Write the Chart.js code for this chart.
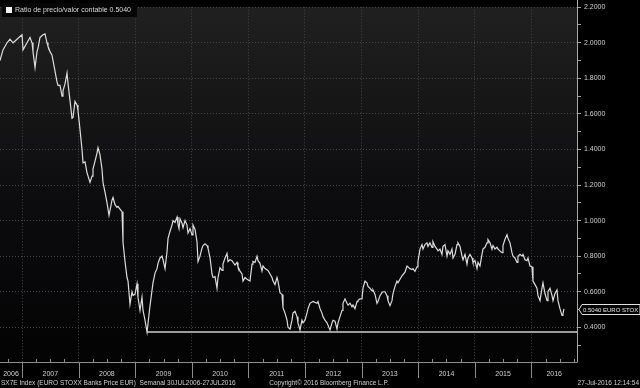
<!DOCTYPE html>
<html>
<head>
<meta charset="utf-8">
<script src="https://cdn.jsdelivr.net/npm/chart.js@4.4.0/dist/chart.umd.min.js"></script>
<style>
    html, body { margin: 0; padding: 0; background: #000; }
    #wrap { width: 640px; height: 388px; }
</style>
</head>
<body>
<div id="wrap"><canvas id="pbChart" width="640" height="388"></canvas></div>
<script>
// Weekly P/B ratio of SX7E (dates as decimal years)
const dates = [
    2006.611, 2006.664, 2006.735, 2006.788, 2006.841, 2006.912, 2006.965,
    2007.000, 2007.018, 2007.088, 2007.141, 2007.177, 2007.194, 2007.230, 2007.265, 2007.283, 2007.318, 2007.371,
    2007.406, 2007.442, 2007.459, 2007.495, 2007.530, 2007.548, 2007.583, 2007.618, 2007.636, 2007.671, 2007.707,
    2007.724, 2007.760, 2007.795, 2007.813, 2007.848, 2007.883, 2007.901, 2007.936, 2007.972, 2007.989,
    2008.025, 2008.060, 2008.078, 2008.113, 2008.148, 2008.201, 2008.237, 2008.254, 2008.290, 2008.325, 2008.343,
    2008.378, 2008.413, 2008.431, 2008.466, 2008.502, 2008.537, 2008.590, 2008.608, 2008.643, 2008.678, 2008.696,
    2008.731, 2008.767, 2008.784, 2008.820, 2008.855, 2008.873, 2008.908, 2008.943, 2008.961, 2008.996,
    2009.032, 2009.049, 2009.085, 2009.120, 2009.138, 2009.173, 2009.209, 2009.261, 2009.314, 2009.350, 2009.385,
    2009.403, 2009.438, 2009.473, 2009.491, 2009.527, 2009.562, 2009.580, 2009.615, 2009.650, 2009.668, 2009.703,
    2009.739, 2009.756, 2009.774, 2009.792, 2009.827, 2009.845, 2009.880, 2009.915, 2009.933, 2009.968,
    2010.004, 2010.021, 2010.057, 2010.092, 2010.110, 2010.145, 2010.180, 2010.198, 2010.233, 2010.269, 2010.286,
    2010.322, 2010.357, 2010.375, 2010.410, 2010.445, 2010.463, 2010.498, 2010.534, 2010.551, 2010.587, 2010.622,
    2010.640, 2010.675, 2010.710, 2010.763, 2010.799, 2010.816, 2010.852, 2010.887, 2010.905, 2010.940, 2010.975,
    2011.028, 2011.064, 2011.081, 2011.117, 2011.152, 2011.170, 2011.205, 2011.240, 2011.258, 2011.293, 2011.346,
    2011.382, 2011.417, 2011.435, 2011.470, 2011.505, 2011.523, 2011.558, 2011.594, 2011.611, 2011.647, 2011.682,
    2011.700, 2011.735, 2011.770, 2011.788, 2011.823, 2011.859, 2011.876, 2011.912, 2011.947, 2011.965,
    2012.000, 2012.035, 2012.053, 2012.088, 2012.141, 2012.212, 2012.230, 2012.265, 2012.300, 2012.318, 2012.353,
    2012.389, 2012.442, 2012.477, 2012.495, 2012.530, 2012.565, 2012.583, 2012.618, 2012.654, 2012.671, 2012.707,
    2012.742, 2012.760, 2012.795, 2012.830, 2012.848, 2012.883, 2012.919, 2012.936, 2012.972,
    2013.007, 2013.025, 2013.060, 2013.095, 2013.113, 2013.148, 2013.184, 2013.201, 2013.237, 2013.272, 2013.290,
    2013.325, 2013.360, 2013.378, 2013.413, 2013.449, 2013.466, 2013.502, 2013.537, 2013.555, 2013.590, 2013.625,
    2013.643, 2013.678, 2013.714, 2013.731, 2013.767, 2013.802, 2013.820, 2013.855, 2013.890, 2013.908, 2013.943,
    2013.979, 2013.996,
    2014.032, 2014.067, 2014.085, 2014.120, 2014.155, 2014.173, 2014.208, 2014.244, 2014.261, 2014.297, 2014.332,
    2014.350, 2014.385, 2014.420, 2014.438, 2014.473, 2014.509, 2014.526, 2014.562, 2014.597, 2014.615, 2014.650,
    2014.686, 2014.703, 2014.739, 2014.774, 2014.792, 2014.827, 2014.862, 2014.880, 2014.915, 2014.951, 2014.968,
    2015.004, 2015.039, 2015.057, 2015.092, 2015.127, 2015.145, 2015.180, 2015.216, 2015.233, 2015.269, 2015.304,
    2015.322, 2015.357, 2015.392, 2015.410, 2015.445, 2015.481, 2015.498, 2015.534, 2015.569, 2015.587, 2015.622,
    2015.657, 2015.675, 2015.710, 2015.746, 2015.763, 2015.799, 2015.834, 2015.852, 2015.887, 2015.922, 2015.940,
    2015.975,
    2016.011, 2016.028, 2016.064, 2016.099, 2016.117, 2016.152, 2016.187, 2016.205, 2016.240, 2016.276, 2016.293,
    2016.329, 2016.364, 2016.382, 2016.417, 2016.452, 2016.470, 2016.505, 2016.541, 2016.558, 2016.576
];

const ratio = [
    1.90, 1.96, 2.00, 2.02, 2.00, 2.02, 2.035,
    2.045, 1.96, 2.00, 2.03, 2.00, 1.95, 1.86, 1.95, 1.97, 2.03, 2.045,
    2.05, 2.00, 1.98, 1.95, 1.93, 1.90, 1.84, 1.78, 1.76, 1.76, 1.70,
    1.73, 1.77, 1.83, 1.77, 1.675, 1.575, 1.58, 1.67, 1.65, 1.62,
    1.51, 1.40, 1.325, 1.33, 1.27, 1.215, 1.25, 1.29, 1.335, 1.38, 1.41,
    1.37, 1.29, 1.215, 1.16, 1.10, 1.03, 1.115, 1.13, 1.09, 1.075, 1.08,
    1.065, 1.05, 0.88, 0.77, 0.68, 0.66, 0.53, 0.60, 0.58, 0.585,
    0.645, 0.57, 0.495, 0.57, 0.495, 0.44, 0.373, 0.52, 0.65, 0.705, 0.73,
    0.76, 0.79, 0.80, 0.78, 0.73, 0.825, 0.90, 0.94, 0.975, 1.00, 0.99,
    1.02, 0.98, 0.955, 1.01, 0.985, 0.96, 1.00, 0.975, 0.93, 0.955,
    0.92, 0.975, 0.95, 0.88, 0.77, 0.80, 0.845, 0.86, 0.87, 0.86, 0.845,
    0.79, 0.70, 0.68, 0.685, 0.62, 0.68, 0.735, 0.72, 0.755, 0.79, 0.815,
    0.77, 0.78, 0.775, 0.75, 0.765, 0.74, 0.716, 0.70, 0.66, 0.68, 0.67,
    0.66, 0.755, 0.77, 0.765, 0.80, 0.775, 0.76, 0.716, 0.745, 0.73, 0.72,
    0.70, 0.68, 0.66, 0.64, 0.68, 0.66, 0.595, 0.585, 0.51, 0.48, 0.44,
    0.40, 0.39, 0.44, 0.48, 0.49, 0.46, 0.425, 0.385, 0.44, 0.425,
    0.44, 0.48, 0.505, 0.535, 0.545, 0.535, 0.545, 0.505, 0.48, 0.46, 0.44,
    0.425, 0.385, 0.425, 0.44, 0.435, 0.39, 0.425, 0.46, 0.495, 0.535, 0.56,
    0.535, 0.525, 0.535, 0.515, 0.525, 0.505, 0.545, 0.55, 0.56,
    0.56, 0.62, 0.66, 0.65, 0.63, 0.62, 0.605, 0.61, 0.585, 0.535, 0.545,
    0.578, 0.595, 0.60, 0.60, 0.578, 0.55, 0.522, 0.55, 0.59, 0.63, 0.66,
    0.65, 0.67, 0.69, 0.69, 0.71, 0.745, 0.74, 0.73, 0.725, 0.73, 0.715,
    0.74, 0.77,
    0.84, 0.865, 0.84, 0.865, 0.875, 0.855, 0.875, 0.85, 0.882, 0.855, 0.84,
    0.83, 0.84, 0.81, 0.855, 0.865, 0.80, 0.83, 0.81, 0.84, 0.79, 0.81,
    0.865, 0.875, 0.855, 0.80, 0.78, 0.81, 0.755, 0.79, 0.81, 0.79, 0.765,
    0.775, 0.73, 0.765, 0.745, 0.81, 0.84, 0.85, 0.875, 0.893, 0.875, 0.84,
    0.86, 0.84, 0.85, 0.84, 0.83, 0.82, 0.86, 0.895, 0.92, 0.90, 0.875,
    0.82, 0.80, 0.79, 0.765, 0.80, 0.81, 0.80, 0.81, 0.78, 0.775, 0.79,
    0.745,
    0.74, 0.66, 0.64, 0.62, 0.578, 0.55, 0.62, 0.65, 0.59, 0.55, 0.60,
    0.62, 0.58, 0.55, 0.59, 0.61, 0.55, 0.505, 0.467, 0.475, 0.504
];

const yearLabels = ['2006', '2007', '2008', '2009', '2010', '2011', '2012', '2013', '2014', '2015', '2016'];
const yearStarts = [2007, 2008, 2009, 2010, 2011, 2012, 2013, 2014, 2015, 2016];
const yTicks = [0.3, 0.4, 0.5, 0.6, 0.7, 0.8, 0.9, 1.0, 1.1, 1.2, 1.3, 1.4, 1.5, 1.6, 1.7, 1.8, 1.9, 2.0, 2.1, 2.2];

const seriesLabel = 'Ratio de precio/valor contable';
const tagName = 'EURO STOX';
const footerLeft = 'SX7E Index (EURO STOXX Banks Price EUR)  Semanal 30JUL2006-27JUL2016';
const footerMid = 'Copyright\u00A9 2016 Bloomberg Finance L.P.';
const footerRight = '27-Jul-2016 12:14:54';

const X_MIN = 2006.611;
const X_MAX = 2016.806;
const FONT = '"Liberation Sans", Arial, sans-serif';

// series low, held flat to the right edge like the Bloomberg low line
let lowIdx = 0;
ratio.forEach((v, i) => { if (v < ratio[lowIdx]) lowIdx = i; });
const lastValue = ratio[ratio.length - 1];

const isMajor = v => Math.round(v * 10) % 2 === 0;

/**
 * Dark gradient behind the plot, black elsewhere
 */
const backdrop = {
    id: 'backdrop',
    beforeDraw(chart) {
        const { ctx, chartArea: a } = chart;
        ctx.save();
        ctx.fillStyle = '#000';
        ctx.fillRect(0, 0, chart.width, chart.height);
        const g = ctx.createLinearGradient(0, a.top, 0, a.bottom);
        g.addColorStop(0, '#202020');
        g.addColorStop(0.55, '#0c0c0e');
        g.addColorStop(1, '#030304');
        ctx.fillStyle = g;
        ctx.fillRect(a.left, a.top, a.right - a.left, a.bottom - a.top);
        ctx.restore();
    }
};

/**
 * Axis lines, year band, legend box, last value tag and footer
 */
const decorations = {
    id: 'decorations',
    afterDraw(chart) {
        const { ctx, chartArea: a } = chart;
        const xs = chart.scales.x;
        const ys = chart.scales.y;
        ctx.save();

        // solid axis lines (grid stays dotted)
        ctx.lineWidth = 1;
        ctx.strokeStyle = '#a8a8a8';
        ctx.beginPath();
        ctx.moveTo(Math.round(a.right) + 0.5, 0);
        ctx.lineTo(Math.round(a.right) + 0.5, a.bottom + 0.5);
        ctx.stroke();
        ctx.strokeStyle = '#8c8c8c';
        ctx.beginPath();
        ctx.moveTo(0, Math.round(a.bottom) + 0.5);
        ctx.lineTo(a.right, Math.round(a.bottom) + 0.5);
        ctx.stroke();

        // year separators and quarter ticks
        yearStarts.forEach(yr => {
            const px = Math.round(xs.getPixelForValue(yr)) + 0.5;
            ctx.beginPath();
            ctx.moveTo(px, a.bottom);
            ctx.lineTo(px, a.bottom + 16);
            ctx.stroke();
        });
        for (let yr = 2006; yr <= 2016; yr++) {
            [0.25, 0.5, 0.75].forEach(q => {
                const t = yr + q;
                if (t <= X_MIN || t >= X_MAX) return;
                const px = Math.round(xs.getPixelForValue(t)) + 0.5;
                ctx.beginPath();
                ctx.moveTo(px, a.bottom);
                ctx.lineTo(px, a.bottom - 3);
                ctx.stroke();
            });
        }

        // year labels centred in each year
        ctx.fillStyle = '#d0d0d0';
        ctx.font = '7px ' + FONT;
        ctx.textAlign = 'center';
        ctx.textBaseline = 'middle';
        yearLabels.forEach(label => {
            const yr = parseInt(label, 10);
            const from = Math.max(yr, X_MIN);
            const to = Math.min(yr + 1, X_MAX);
            const px = (xs.getPixelForValue(from) + xs.getPixelForValue(to)) / 2;
            ctx.fillText(label, px, a.bottom + 12);
        });

        // footer
        ctx.font = '6.5px ' + FONT;
        ctx.textBaseline = 'middle';
        ctx.textAlign = 'left';
        ctx.fillText(footerLeft, 1, 383);
        ctx.textAlign = 'center';
        ctx.fillText(footerMid, 329, 383);
        ctx.textAlign = 'right';
        ctx.fillText(footerRight, 639, 383);

        // legend box top left
        ctx.font = '7px ' + FONT;
        const legendText = seriesLabel + ' ' + lastValue.toFixed(4);
        const tw = ctx.measureText(legendText).width;
        ctx.fillStyle = '#060606';
        ctx.fillRect(2, 3, tw + 19, 14);
        ctx.fillStyle = '#f2f2f2';
        ctx.fillRect(6, 7, 6, 6);
        ctx.fillStyle = '#d8d8d8';
        ctx.textAlign = 'left';
        ctx.fillText(legendText, 15, 10.5);

        // last value tag on the axis
        const ty = Math.round(ys.getPixelForValue(lastValue)) + 0.5;
        const tx = a.right + 2;
        ctx.beginPath();
        ctx.moveTo(tx, ty);
        ctx.lineTo(tx + 3, ty - 5);
        ctx.lineTo(640, ty - 5);
        ctx.lineTo(640, ty + 5);
        ctx.lineTo(tx + 3, ty + 5);
        ctx.closePath();
        ctx.fillStyle = '#000';
        ctx.fill();
        ctx.strokeStyle = '#e0e0e0';
        ctx.stroke();
        ctx.fillStyle = '#e8e8e8';
        ctx.font = '6px ' + FONT;
        ctx.fillText(lastValue.toFixed(4) + ' ' + tagName, tx + 4, ty + 0.5);

        ctx.restore();
    }
};

const lineData = dates.map((d, i) => ({ x: d, y: ratio[i] }));
const lowData = [
    { x: dates[lowIdx], y: ratio[lowIdx] },
    { x: X_MAX, y: ratio[lowIdx] }
];

Chart.defaults.font.family = FONT;
Chart.defaults.color = '#d0d0d0';

const config = {
    type: 'line',
    data: {
        datasets: [
            {
                label: seriesLabel,
                data: lineData,
                borderColor: '#dcdcdc',
                borderWidth: 1.2,
                pointRadius: 0,
                tension: 0
            },
            {
                label: 'low',
                data: lowData,
                borderColor: '#cfcfcf',
                borderWidth: 1.5,
                pointRadius: 0
            }
        ]
    },
    options: {
        responsive: false,
        animation: false,
        devicePixelRatio: 1,
        layout: { padding: { top: 2, left: 0, right: 0, bottom: 0 } },
        plugins: {
            legend: { display: false },
            tooltip: { enabled: false }
        },
        scales: {
            x: {
                type: 'linear',
                min: X_MIN,
                max: X_MAX,
                afterBuildTicks: scale => {
                    scale.ticks = yearStarts.map(v => ({ value: v }));
                },
                afterFit: scale => { scale.height = 26; },
                ticks: { display: false },
                grid: {
                    color: '#444',
                    lineWidth: 1,
                    drawTicks: false
                },
                border: {
                    display: false,
                    dash: [1, 2]
                }
            },
            y: {
                position: 'right',
                min: 0.205,
                max: 2.2,
                afterBuildTicks: scale => {
                    scale.ticks = yTicks.map(v => ({ value: v }));
                },
                afterFit: scale => { scale.width = 63; },
                ticks: {
                    padding: 3,
                    font: { size: 7 },
                    color: '#d0d0d0',
                    callback: v => isMajor(v) ? v.toFixed(4) : ''
                },
                grid: {
                    color: ctx => (ctx.tick && isMajor(ctx.tick.value)) ? '#444' : 'transparent',
                    tickColor: '#a0a0a0',
                    tickLength: 4,
                    lineWidth: 1
                },
                border: {
                    display: false,
                    dash: [1, 2]
                }
            }
        }
    },
    plugins: [backdrop, decorations]
};

new Chart(document.getElementById('pbChart'), config);
</script>
</body>
</html>
